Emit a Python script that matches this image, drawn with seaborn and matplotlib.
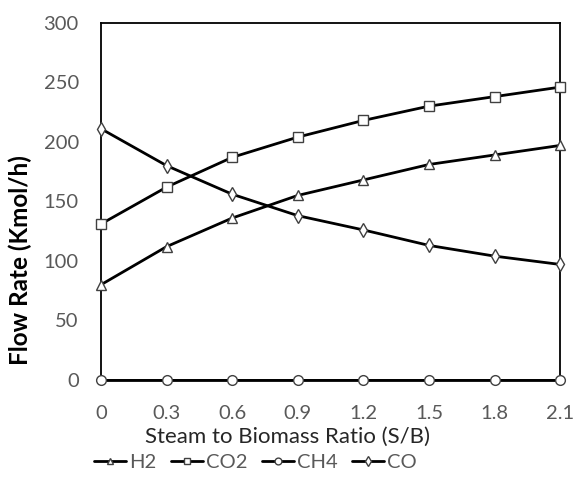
import numpy as np
import pandas as pd
import matplotlib
matplotlib.use("Agg")
import matplotlib.pyplot as plt
import seaborn as sns

# data
sb_ratio = [0, 0.3, 0.6, 0.9, 1.2, 1.5, 1.8, 2.1]
h2 = [80, 112, 136, 155, 168, 181, 189, 197]
co2 = [131, 162, 187, 204, 218, 230, 238, 246]
ch4 = [0, 0, 0, 0, 0, 0, 0, 0]
co = [211, 180, 156, 138, 126, 113, 104, 97]

series = {"H2": h2, "CO2": co2, "CH4": ch4, "CO": co}
markers = {"H2": "^", "CO2": "s", "CH4": "o", "CO": "d"}

sns.set_style("white")
plt.rcParams['font.family'] = ['Lato', 'DejaVu Sans']

fig = plt.figure(figsize=(5.74, 4.96), dpi=100)
ax = fig.add_axes([0.176, 0.234, 0.8, 0.72])

for name, vals in series.items():
    df = pd.DataFrame({"x": sb_ratio, "y": vals})
    sns.lineplot(data=df, x="x", y="y", ax=ax, color="black", linewidth=2,
                 marker=markers[name], markersize=7, markerfacecolor="white",
                 markeredgecolor="#404040", markeredgewidth=1.0, label=name,
                 clip_on=False, zorder=3)

ax.set_xlim(0, 2.1)
ax.set_ylim(0, 300)
ax.set_xticks(sb_ratio)
ax.set_xticklabels(["0", "0.3", "0.6", "0.9", "1.2", "1.5", "1.8", "2.1"])
ax.set_yticks(np.arange(0, 301, 50))

for s in ax.spines.values():
    s.set_visible(True)
    s.set_color("black")
    s.set_linewidth(1.3)

ax.tick_params(axis="both", direction="in", length=5, width=1.2, colors="black",
               labelcolor="#595959", labelsize=14.5)
ax.tick_params(axis="x", pad=18)
ax.tick_params(axis="y", pad=16)

ax.set_xlabel("Steam to Biomass Ratio (S/B)", fontsize=16, color="#262626")
ax.xaxis.set_label_coords(0.407, -0.13)
ax.set_ylabel("Flow Rate (Kmol/h)", fontsize=17.5, fontweight="bold", color="black")
ax.yaxis.set_label_coords(-0.150, 0.335)

handles, labels = ax.get_legend_handles_labels()
ax.legend_.remove()
fig.legend(handles, labels, loc="center", bbox_to_anchor=(0.445, 0.067), ncol=4,
           frameon=False, fontsize=14.5, handlelength=1.6, handletextpad=0.15,
           columnspacing=0.7, markerscale=0.7, labelcolor="#595959")

fig.savefig("out.png", dpi=100)
